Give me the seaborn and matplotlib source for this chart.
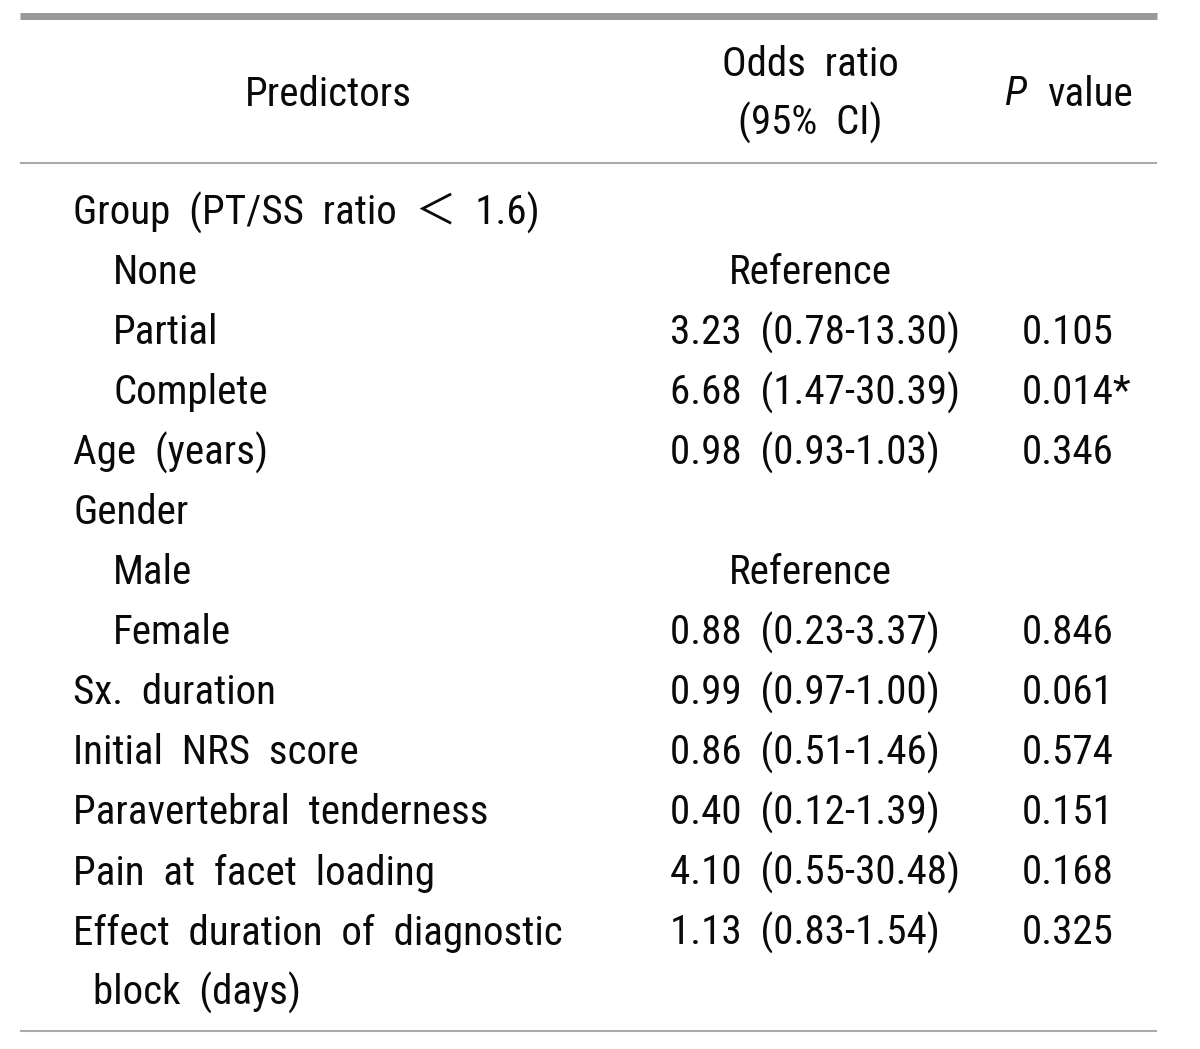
import matplotlib.pyplot as plt
import seaborn as sns

sns.set_theme(style="white")
# narrow sans like the original; CJK family only for the full-width '＜'
plt.rcParams['font.family'] = ['Roboto Condensed', 'PT Sans Narrow', 'Liberation Sans',
                               'Noto Sans CJK KR', 'DejaVu Sans']

# table data
predictors = ['Group  (PT/SS  ratio  ＜  1.6)', 'None', 'Partial', 'Complete', 'Age  (years)',
              'Gender', 'Male', 'Female', 'Sx.  duration', 'Initial  NRS  score',
              'Paravertebral  tenderness', 'Pain  at  facet  loading',
              'Effect  duration  of  diagnostic', 'block  (days)']
indent = [0, 2, 2, 2, 0, 0, 2, 2, 0, 0, 0, 0, 0, 1]
odds_ratio = ['', 'Reference', '3.23  (0.78-13.30)', '6.68  (1.47-30.39)', '0.98  (0.93-1.03)',
              '', 'Reference', '0.88  (0.23-3.37)', '0.99  (0.97-1.00)', '0.86  (0.51-1.46)',
              '0.40  (0.12-1.39)', '4.10  (0.55-30.48)', '1.13  (0.83-1.54)', '']
p_values = ['', '', '0.105', '0.014*', '0.346', '', '', '0.846', '0.061', '0.574',
            '0.151', '0.168', '0.325', '']

W, H = 1200, 1049
fig = plt.figure(figsize=(W / 100, H / 100), dpi=100)
ax = fig.add_axes([0, 0, 1, 1])
ax.set_xlim(0, W)
ax.set_ylim(H, 0)
ax.axis('off')

fs = 29.5
txt = '#0a0a0a'
dy = 3  # small nudge so the glyphs sit like the original

# rules
ax.plot([20, 1157], [15.5, 15.5], color='#999999', lw=5, solid_capstyle='butt')
ax.plot([20, 1157], [163, 163], color='#aaaaaa', lw=1.5, solid_capstyle='butt')
ax.plot([20, 1157], [1031, 1031], color='#aaaaaa', lw=1.5, solid_capstyle='butt')

# header
ax.text(328, 91 + dy, 'Predictors', fontsize=fs, color=txt, ha='center', va='center')
ax.text(810, 62 + dy, 'Odds  ratio', fontsize=fs, color=txt, ha='center', va='center')
ax.text(810, 120 + dy, '(95%  CI)', fontsize=fs, color=txt, ha='center', va='center')
ax.text(1004, 91 + dy, 'P', fontsize=fs, color=txt, ha='left', va='center', style='italic')
ax.text(1047, 91 + dy, 'value', fontsize=fs, color=txt, ha='left', va='center')

# body rows
row_y0, row_h = 210, 60
for i, name in enumerate(predictors):
    y = row_y0 + i * row_h + dy
    ax.text(73 + 20 * indent[i], y, name, fontsize=fs, color=txt, ha='left', va='center')
    if odds_ratio[i] == 'Reference':
        ax.text(810, y, odds_ratio[i], fontsize=fs, color=txt, ha='center', va='center')
    elif odds_ratio[i]:
        ax.text(670, y, odds_ratio[i], fontsize=fs, color=txt, ha='left', va='center')
    if p_values[i]:
        ax.text(1022, y, p_values[i], fontsize=fs, color=txt, ha='left', va='center')

fig.savefig('out.png', dpi=100, facecolor='white')
